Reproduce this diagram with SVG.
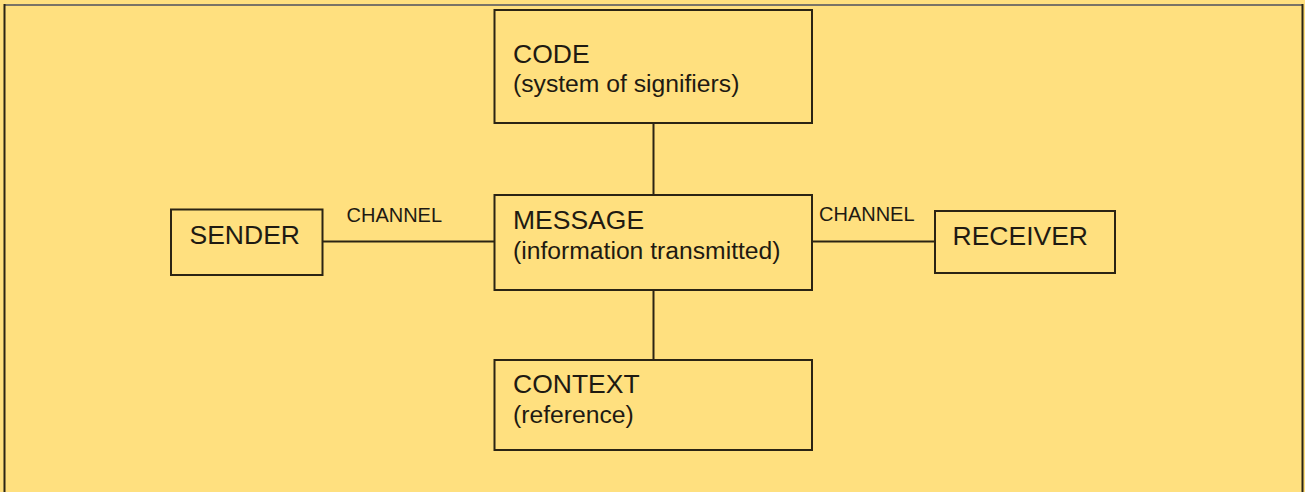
<svg xmlns="http://www.w3.org/2000/svg" width="1305" height="492" viewBox="0 0 1305 492">
  <style>
    .box { fill: #FFE07F; stroke: #2B2414; stroke-width: 2; }
    .link { stroke: #2B2414; stroke-width: 2; fill: none; }
    .title { font-family: "Liberation Sans", Arial, sans-serif; font-size: 26.5px; fill: #1E1A12; }
    .sub { font-family: "Liberation Sans", Arial, sans-serif; font-size: 24.7px; fill: #1E1A12; }
    .label { font-family: "Liberation Sans", Arial, sans-serif; font-size: 20px; fill: #1E1A12; }
  </style>

  <!-- page background and frame -->
  <rect x="0" y="0" width="1305" height="492" fill="#FFE07F"/>
  <line x1="4" y1="5" x2="1302" y2="5" stroke="#7A7466" stroke-width="2"/>
  <line x1="4.5" y1="4" x2="4.5" y2="492" stroke="#2B2414" stroke-width="2"/>
  <line x1="1302.5" y1="4" x2="1302.5" y2="492" stroke="#2B2414" stroke-width="2"/>

  <!-- connectors -->
  <g id="connectors">
    <line class="link" x1="653.5" y1="123" x2="653.5" y2="195"/>
    <line class="link" x1="653.5" y1="290" x2="653.5" y2="360"/>
    <line class="link" x1="322" y1="241.5" x2="495" y2="241.5"/>
    <text class="label" x="346.5" y="221.5">CHANNEL</text>
    <line class="link" x1="812" y1="241.5" x2="935" y2="241.5"/>
    <text class="label" x="819" y="220.5">CHANNEL</text>
  </g>

  <g id="code">
    <rect class="box" x="494.5" y="10" width="317.5" height="113"/>
    <text class="title" x="513" y="63">CODE</text>
    <text class="sub" x="513" y="92">(system of signifiers)</text>
  </g>

  <g id="message">
    <rect class="box" x="494.5" y="195" width="317.5" height="95"/>
    <text class="title" x="513" y="229">MESSAGE</text>
    <text class="sub" x="513" y="259">(information transmitted)</text>
  </g>

  <g id="context">
    <rect class="box" x="494.5" y="360" width="317.5" height="90"/>
    <text class="title" x="513" y="393">CONTEXT</text>
    <text class="sub" x="513" y="423">(reference)</text>
  </g>

  <g id="sender">
    <rect class="box" x="171" y="209.5" width="151.5" height="65.5"/>
    <text class="title" x="189.5" y="243.5">SENDER</text>
  </g>

  <g id="receiver">
    <rect class="box" x="935" y="211" width="180" height="62"/>
    <text class="title" x="952.5" y="245">RECEIVER</text>
  </g>
</svg>
